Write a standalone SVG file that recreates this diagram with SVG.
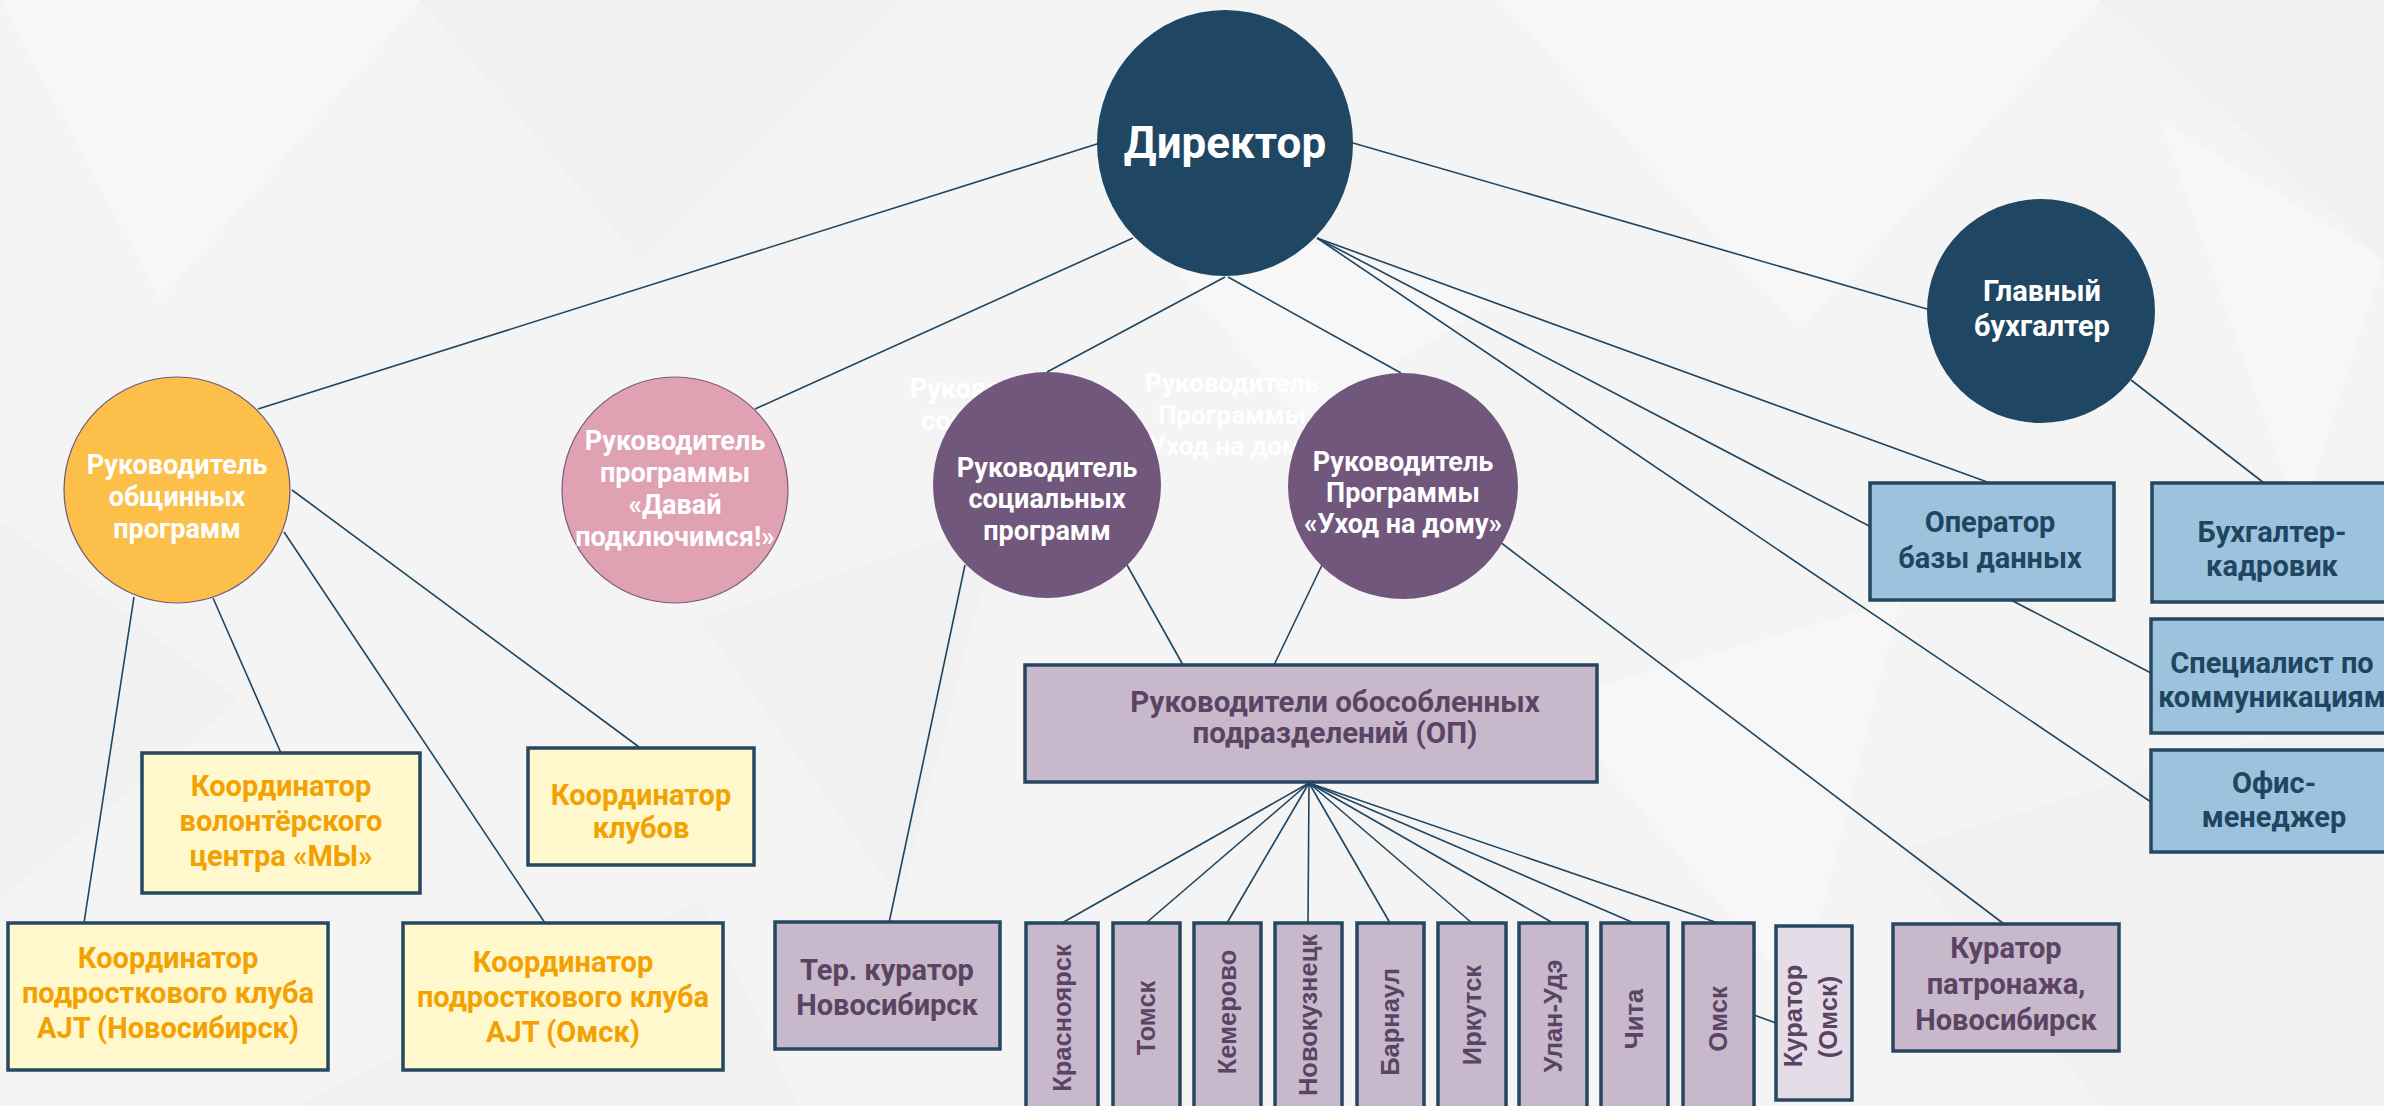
<svg xmlns="http://www.w3.org/2000/svg" width="2384" height="1106" viewBox="0 0 2384 1106">
<style>
.t{font-family:Roboto,"Noto Sans","Liberation Sans",sans-serif;font-weight:700;text-anchor:middle}
.w{fill:#ffffff}
.ghost{fill:#ffffff}
.yt{fill:#f2a100}
.pt{fill:#5b4463}
.bt{fill:#1f4560}
.city{font-family:"Liberation Sans",Arial,sans-serif;font-weight:700;font-size:25.5px;text-anchor:middle;fill:#5b4463}
.con line{stroke:#1f4560;stroke-width:1.6;fill:none}
.ybox{fill:#fff8cc;stroke:#25475f;stroke-width:3.5}
.pbox{fill:#c7b8cc;stroke:#25475f;stroke-width:3.5}
.lbox{fill:#e4dce7;stroke:#25475f;stroke-width:3.5}
.bbox{fill:#9cc2de;stroke:#25475f;stroke-width:3.5}
.dark{fill:#1f4662}
.purp{fill:#72577c}
.bg1{fill:#ffffff;opacity:0.3}
.bg2{fill:#e6e6e8;opacity:0.25}
</style>
<g id="background">
<rect x="0" y="0" width="2384" height="1106" fill="#f4f4f5"/>
<polygon points="0,0 420,0 160,300" class="bg1"/>
<polygon points="420,0 900,0 640,260" class="bg2"/>
<polygon points="1500,0 2100,0 1800,330" class="bg1"/>
<polygon points="2100,0 2384,0 2384,260" class="bg2"/>
<polygon points="2160,120 2384,260 2300,520" class="bg1"/>
<polygon points="0,520 240,700 0,900" class="bg2"/>
<polygon points="700,620 1000,520 900,900" class="bg2"/>
<polygon points="1550,700 1900,600 1800,1000" class="bg1"/>
<polygon points="1900,850 2384,700 2384,1106 2100,1106" class="bg2"/>
<polygon points="300,1106 700,900 800,1106" class="bg2"/>
<polygon points="1100,180 1500,300 1300,420" class="bg1"/>
</g>
<g id="ghost-labels" class="t ghost">
<text x="1000" y="398" font-size="27">Руководитель</text>
<text x="1000" y="430" font-size="27">социальных</text>
<text x="1232" y="392" font-size="26">Руководитель</text>
<text x="1232" y="424" font-size="26">Программы</text>
<text x="1232" y="455" font-size="26">«Уход на дому»</text>
</g>
<g id="connectors" class="con">
<line x1="1100" y1="143" x2="258" y2="409"/>
<line x1="1133" y1="238" x2="755" y2="409"/>
<line x1="1225" y1="277" x2="1047" y2="372"/>
<line x1="1228" y1="277" x2="1401" y2="373"/>
<line x1="1353" y1="143" x2="1927" y2="309"/>
<line x1="1317" y1="238" x2="1990" y2="483"/>
<line x1="1317" y1="238" x2="2151" y2="673"/>
<line x1="1317" y1="238" x2="2151" y2="802"/>
<line x1="2131" y1="380" x2="2264" y2="483"/>
<line x1="134" y1="597" x2="84" y2="923"/>
<line x1="213" y1="598" x2="281" y2="753"/>
<line x1="284" y1="532" x2="545" y2="923"/>
<line x1="292" y1="490" x2="639" y2="747"/>
<line x1="965" y1="565" x2="889" y2="923"/>
<line x1="1127" y1="565" x2="1183" y2="665"/>
<line x1="1322" y1="565" x2="1274" y2="665"/>
<line x1="1500" y1="542" x2="2004" y2="924"/>
<line x1="1309" y1="783" x2="1062" y2="923"/>
<line x1="1309" y1="783" x2="1146" y2="923"/>
<line x1="1309" y1="783" x2="1227" y2="923"/>
<line x1="1309" y1="783" x2="1308" y2="923"/>
<line x1="1309" y1="783" x2="1390" y2="923"/>
<line x1="1309" y1="783" x2="1472" y2="923"/>
<line x1="1309" y1="783" x2="1553" y2="923"/>
<line x1="1309" y1="783" x2="1634" y2="923"/>
<line x1="1309" y1="783" x2="1718" y2="923"/>
<line x1="1754" y1="1015" x2="1776" y2="1023"/>
</g>
<g id="director">
<ellipse cx="1225" cy="143" rx="128" ry="133" class="dark"/>
<text x="1225" y="158" class="t w" font-size="44">Директор</text>
</g>
<g id="chief-accountant">
<ellipse cx="2041" cy="311" rx="114" ry="112" class="dark"/>
<text class="t w" font-size="29"><tspan x="2042" y="301">Главный</tspan><tspan x="2042" y="336">бухгалтер</tspan></text>
</g>
<g id="community-head">
<ellipse cx="177" cy="490" rx="113" ry="113" fill="#fbbf4a" stroke="#6e5a7e" stroke-width="1.2"/>
<text class="t w" font-size="27"><tspan x="177" y="474">Руководитель</tspan><tspan x="177" y="506">общинных</tspan><tspan x="177" y="538">программ</tspan></text>
</g>
<g id="connect-head">
<ellipse cx="675" cy="490" rx="113" ry="113" fill="#e0a2b3" stroke="#7a5a80" stroke-width="1.2"/>
<text class="t w" font-size="27"><tspan x="675" y="450">Руководитель</tspan><tspan x="675" y="482">программы</tspan><tspan x="675" y="514">«Давай</tspan><tspan x="675" y="546">подключимся!»</tspan></text>
</g>
<g id="social-head">
<ellipse cx="1047" cy="485" rx="114" ry="113" class="purp"/>
<text class="t w" font-size="27"><tspan x="1047" y="477">Руководитель</tspan><tspan x="1047" y="508">социальных</tspan><tspan x="1047" y="540">программ</tspan></text>
</g>
<g id="homecare-head">
<ellipse cx="1403" cy="486" rx="115" ry="113" class="purp"/>
<text class="t w" font-size="27"><tspan x="1403" y="471">Руководитель</tspan><tspan x="1403" y="502">Программы</tspan><tspan x="1403" y="533">«Уход на дому»</tspan></text>
</g>
<g id="volunteer-coord">
<rect x="142" y="753" width="278" height="140" class="ybox"/>
<text class="t yt" font-size="29"><tspan x="281" y="796">Координатор</tspan><tspan x="281" y="831">волонтёрского</tspan><tspan x="281" y="866">центра «МЫ»</tspan></text>
</g>
<g id="clubs-coord">
<rect x="528" y="748" width="226" height="117" class="ybox"/>
<text class="t yt" font-size="29"><tspan x="641" y="805">Координатор</tspan><tspan x="641" y="838">клубов</tspan></text>
</g>
<g id="ajt-novosibirsk">
<rect x="8" y="923" width="320" height="147" class="ybox"/>
<text class="t yt" font-size="29"><tspan x="168" y="968">Координатор</tspan><tspan x="168" y="1003">подросткового клуба</tspan><tspan x="168" y="1038">AJT (Новосибирск)</tspan></text>
</g>
<g id="ajt-omsk">
<rect x="403" y="923" width="320" height="147" class="ybox"/>
<text class="t yt" font-size="29"><tspan x="563" y="972">Координатор</tspan><tspan x="563" y="1007">подросткового клуба</tspan><tspan x="563" y="1042">AJT (Омск)</tspan></text>
</g>
<g id="ter-curator">
<rect x="775" y="922" width="225" height="127" class="pbox"/>
<text class="t pt" font-size="29"><tspan x="887" y="980">Тер. куратор</tspan><tspan x="887" y="1015">Новосибирск</tspan></text>
</g>
<g id="branch-heads">
<rect x="1025" y="665" width="572" height="117" class="pbox"/>
<text class="t pt" font-size="29.5"><tspan x="1335" y="712">Руководители обособленных</tspan><tspan x="1335" y="743">подразделений (ОП)</tspan></text>
</g>
<g id="city-krasnoyarsk">
<rect x="1026" y="923" width="72" height="192" class="pbox"/>
<text class="city" transform="translate(1071,1018) rotate(-90)">Красноярск</text>
</g>
<g id="city-tomsk">
<rect x="1113" y="923" width="67" height="192" class="pbox"/>
<text class="city" transform="translate(1155,1018) rotate(-90)">Томск</text>
</g>
<g id="city-kemerovo">
<rect x="1194" y="923" width="67" height="192" class="pbox"/>
<text class="city" transform="translate(1236,1012) rotate(-90)">Кемерово</text>
</g>
<g id="city-novokuznetsk">
<rect x="1275" y="923" width="67" height="192" class="pbox"/>
<text class="city" transform="translate(1317,1015) rotate(-90)">Новокузнецк</text>
</g>
<g id="city-barnaul">
<rect x="1357" y="923" width="67" height="192" class="pbox"/>
<text class="city" transform="translate(1399,1022) rotate(-90)">Барнаул</text>
</g>
<g id="city-irkutsk">
<rect x="1438" y="923" width="68" height="192" class="pbox"/>
<text class="city" transform="translate(1481,1015) rotate(-90)">Иркутск</text>
</g>
<g id="city-ulan-ude">
<rect x="1519" y="923" width="68" height="192" class="pbox"/>
<text class="city" transform="translate(1562,1016) rotate(-90)">Улан-Удэ</text>
</g>
<g id="city-chita">
<rect x="1601" y="923" width="67" height="192" class="pbox"/>
<text class="city" transform="translate(1643,1019) rotate(-90)">Чита</text>
</g>
<g id="city-omsk">
<rect x="1683" y="923" width="71" height="192" class="pbox"/>
<text class="city" transform="translate(1727,1019) rotate(-90)">Омск</text>
</g>
<g id="curator-omsk">
<rect x="1776" y="926" width="76" height="174" class="lbox"/>
<text class="city" transform="translate(1802,1016) rotate(-90)">Куратор</text>
<text class="city" transform="translate(1837,1017) rotate(-90)">(Омск)</text>
</g>
<g id="patronage-curator">
<rect x="1893" y="924" width="226" height="127" class="pbox"/>
<text class="t pt" font-size="29"><tspan x="2006" y="958">Куратор</tspan><tspan x="2006" y="994">патронажа,</tspan><tspan x="2006" y="1030">Новосибирск</tspan></text>
</g>
<g id="db-operator">
<rect x="1870" y="483" width="244" height="117" class="bbox"/>
<text class="t bt" font-size="29"><tspan x="1990" y="532">Оператор</tspan><tspan x="1990" y="568">базы данных</tspan></text>
</g>
<g id="accountant-hr">
<rect x="2152" y="483" width="255" height="119" class="bbox"/>
<text class="t bt" font-size="29"><tspan x="2272" y="542">Бухгалтер-</tspan><tspan x="2272" y="576">кадровик</tspan></text>
</g>
<g id="comm-specialist">
<rect x="2151" y="619" width="256" height="114" class="bbox"/>
<text class="t bt" font-size="29"><tspan x="2272" y="673">Специалист по</tspan><tspan x="2272" y="707">коммуникациям</tspan></text>
</g>
<g id="office-manager">
<rect x="2151" y="750" width="256" height="102" class="bbox"/>
<text class="t bt" font-size="29"><tspan x="2274" y="793">Офис-</tspan><tspan x="2274" y="827">менеджер</tspan></text>
</g>
</svg>
